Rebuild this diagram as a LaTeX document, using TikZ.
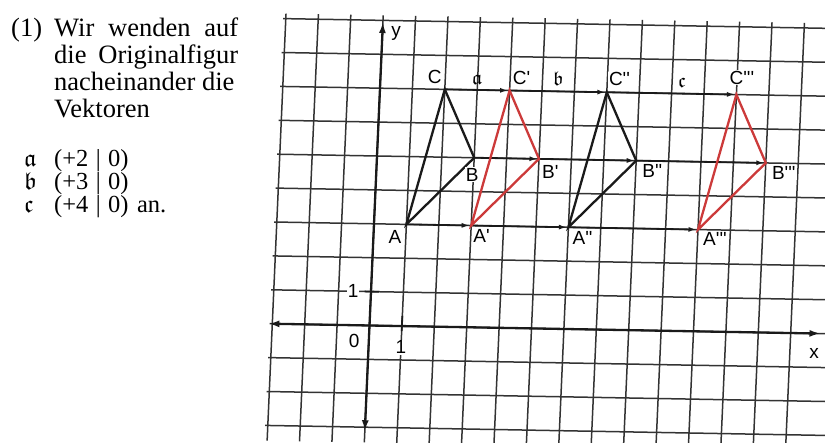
\documentclass[tikz,border=0pt]{standalone}
\usepackage{amssymb}
\usepackage{fontspec}
\setmainfont{Liberation Serif}
\newfontfamily\labelfont{Liberation Sans}
\usetikzlibrary{positioning,arrows.meta,calc}
\setlength{\parindent}{0pt}
\definecolor{inkblack}{HTML}{1A1A1A}
\definecolor{gridgrey}{HTML}{333333}
\definecolor{figred}{HTML}{CC3A3A}
\tikzset{
  gridline/.style={draw=gridgrey, line width=1.5pt},
  axisline/.style={{Latex[length=11pt,width=7pt]}-{Latex[length=11pt,width=7pt]},
                   line width=2.3pt, draw=inkblack},
  tickmark/.style={line width=1.8pt, draw=inkblack},
  tri/.style={line width=2.3pt, draw=#1, line join=miter},
  shiftvec/.style={-{Latex[length=8pt,width=5pt]}, line width=1.8pt,
                   draw=inkblack, shorten >=1.5pt},
  ptlbl/.style={font=\labelfont\fontsize{19}{19}\selectfont, fill=white, inner sep=1pt},
  axlbl/.style={font=\labelfont\fontsize{19}{19}\selectfont, fill=white, inner sep=1pt},
  vecsym/.style={font=\fontsize{20}{20}\selectfont, inner sep=0pt},
  body/.style={font=\fontsize{26.5}{26.7}\selectfont, inner sep=0pt},
  vecline/.style={font=\fontsize{24.5}{24.5}\selectfont, inner sep=0pt},
}

\begin{document}
\begin{tikzpicture}[x=1pt,y=1pt]
  \useasboundingbox (0,0) rectangle (825,443);
  \clip (0,0) rectangle (825,443);

  % task text
  \node[body, anchor=base west] (num) at (11,406) {(1)};
  \node[body, anchor=base west, text width=184pt, align=justify] (intro) at (54,406)
    {Wir wenden auf\linebreak die Originalfigur\linebreak nacheinander die\\Vektoren};
  \node[vecline, anchor=base west] (vecA) at (24,276)
    {\makebox[30pt][l]{$\mathfrak{a}$}(+2\hspace{.3em}|\hspace{.3em}0)};
  \node[vecline, anchor=base west] (vecB) at (24,253)
    {\makebox[30pt][l]{$\mathfrak{b}$}(+3\hspace{.3em}|\hspace{.3em}0)};
  \node[vecline, anchor=base west] (vecC) at (24,230)
    {\makebox[30pt][l]{$\mathfrak{c}$}(+4\hspace{.3em}|\hspace{.3em}0)\hspace{.35em}an.};

  \begin{scope}[shift={(369.5,117.5)}, x={(32.4pt,-0.58pt)}, y={(1.5pt,33.9pt)}]
    % grid paper
    \foreach \i in {-3,...,13}
      \draw[gridline] (\i,-3.45) -- (\i,9.15);
    \foreach \j in {-3,...,9}
      \draw[gridline] (-3.08,\j) -- (14.3,\j);

    % axes
    \coordinate (xl) at (-3.12,0);
    \coordinate (xr) at (13.92,0);
    \coordinate (yb) at (0,-3.12);
    \coordinate (yt) at (0,8.95);
    \draw[axisline] (xl) -- (xr);
    \draw[axisline] (yb) -- (yt);
    \draw[tickmark] (1,-0.15) -- (1,0.3);
    \draw[tickmark] (-0.2,1) -- (0.25,1);
    \node[axlbl] (l0) at (-0.45,-0.45) {0};
    \node[axlbl] (lx1) at (1,-0.62) {1};
    \node[axlbl] (ly1) at (-0.55,1) {1};
    \node[axlbl] (lx) at (13.75,-0.6) {x};
    \node[axlbl] (ly) at (0.42,8.62) {y};

    % triangle and its images
    \coordinate (A) at (1,3);  \coordinate (B) at (3,5);  \coordinate (C) at (2,7);
    \coordinate (A1) at (3,3); \coordinate (B1) at (5,5); \coordinate (C1) at (4,7);
    \coordinate (A2) at (6,3); \coordinate (B2) at (8,5); \coordinate (C2) at (7,7);
    \coordinate (A3) at (10,3); \coordinate (B3) at (12,5); \coordinate (C3) at (11,7);

    \foreach \p in {A,B} {
      \draw[shiftvec] (\p) -- (\p1);
      \draw[shiftvec] (\p1) -- (\p2);
      \draw[shiftvec] (\p2) -- (\p3);
    }
    \draw[shiftvec] (C) -- node[vecsym, above=5pt] (va) {$\mathfrak{a}$} (C1);
    \draw[shiftvec] (C1) -- node[vecsym, above=5pt] (vb) {$\mathfrak{b}$} (C2);
    \draw[shiftvec] (C2) -- node[vecsym, above=5pt, pos=0.58] (vc) {$\mathfrak{c}$} (C3);

    \draw[tri=inkblack] (A) -- (B) -- (C) -- cycle;
    \draw[tri=figred] (A1) -- (B1) -- (C1) -- cycle;
    \draw[tri=inkblack] (A2) -- (B2) -- (C2) -- cycle;
    \draw[tri=figred] (A3) -- (B3) -- (C3) -- cycle;

    \node[ptlbl, anchor=north east, xshift=-4pt, yshift=-5pt] (lA) at (A) {A};
    \node[ptlbl, anchor=north, xshift=-2pt, yshift=-9pt] (lB) at (B) {B};
    \node[ptlbl, anchor=south east, xshift=-2pt, yshift=4pt] (lC) at (C) {C};
    \node[ptlbl, anchor=north west, xshift=1pt, yshift=-3pt] (lA1) at (A1) {A'};
    \node[ptlbl, anchor=north west, xshift=2pt, yshift=-5pt] (lB1) at (B1) {B'};
    \node[ptlbl, anchor=south west, xshift=2pt, yshift=5pt] (lC1) at (C1) {C'};
    \node[ptlbl, anchor=north west, xshift=3pt, yshift=-3pt] (lA2) at (A2) {A''};
    \node[ptlbl, anchor=north west, xshift=5pt, yshift=-3pt] (lB2) at (B2) {B''};
    \node[ptlbl, anchor=south west, xshift=1pt, yshift=5pt] (lC2) at (C2) {C''};
    \node[ptlbl, anchor=north west, xshift=4pt, yshift=-2pt] (lA3) at (A3) {A'''};
    \node[ptlbl, anchor=north west, xshift=5pt, yshift=-2pt] (lB3) at (B3) {B'''};
    \node[ptlbl, anchor=south west, xshift=-8pt, yshift=9pt] (lC3) at (C3) {C'''};
  \end{scope}
\end{tikzpicture}
\end{document}
